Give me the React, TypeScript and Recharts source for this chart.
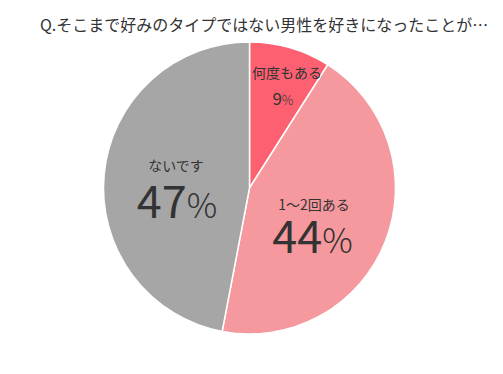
import React from "react";
import { PieChart, Pie, Cell } from "recharts";

const title = "Q.そこまで好みのタイプではない男性を好きになったことが…";
const names = ["何度もある", "1〜2回ある", "ないです"];
const values = [9, 44, 47];
const colors = ["#fd6171", "#f6999e", "#a6a6a6"];

// label placement (style): radius fraction, clockwise angle shift, text offsets
const labelRadius = [0.704, 0.527, 0.505];
const angleShift = [4.0, 12.8, -10.45];
const nameOff = [-13.5, -21.5, -23.5];
const numOff = [13.5, 21.5, 23.5];
const nameDx = [2, 1, 0];
const numDx = [-2, -0.5, 1];
const nameSize = [14, 14, 14];
const numSize = [17, 45, 45];
const pctSize = [13, 34, 34];

const data = names.map((n, i) => ({ name: n, value: values[i] }));

const RAD = Math.PI / 180;
const FONT = "'Noto Sans CJK JP', sans-serif";

const renderLabel = (props: any) => {
  const { cx, cy, midAngle, outerRadius, index } = props;
  const r = outerRadius * labelRadius[index];
  const a = midAngle - angleShift[index];
  const x = cx + r * Math.cos(-a * RAD);
  const y = cy + r * Math.sin(-a * RAD);
  return (
    <g>
      <text
        x={x + nameDx[index]}
        y={y + nameOff[index]}
        textAnchor="middle"
        fill="#333"
        fontSize={nameSize[index]}
        fontFamily={FONT}
      >
        {names[index]}
      </text>
      <text
        x={x + numDx[index]}
        y={y + numOff[index]}
        textAnchor="middle"
        fill="#333"
        fontFamily={FONT}
      >
        <tspan fontSize={numSize[index]}>{values[index]}</tspan>
        <tspan fontSize={pctSize[index]} fontWeight={300}>%</tspan>
      </text>
    </g>
  );
};

export default function App() {
  return (
    <div style={{ position: "absolute", left: 0, top: 0, width: 503, height: 374, background: "#fff" }}>
      <div
        style={{
          position: "absolute",
          left: 40,
          top: 14,
          fontSize: 16,
          lineHeight: "20px",
          color: "#333",
          fontFamily: FONT,
          whiteSpace: "nowrap",
        }}
      >
        {title}
      </div>
      <PieChart width={503} height={374} margin={{ top: 0, right: 0, bottom: 0, left: 0 }}>
        <Pie
          data={data}
          dataKey="value"
          nameKey="name"
          cx={249.5}
          cy={188}
          outerRadius={146}
          startAngle={90}
          endAngle={-270}
          stroke="#fff"
          strokeWidth={1.5}
          label={renderLabel}
          labelLine={false}
          isAnimationActive={false}
        >
          {data.map((d, i) => (
            <Cell key={d.name} fill={colors[i]} />
          ))}
        </Pie>
      </PieChart>
    </div>
  );
}
